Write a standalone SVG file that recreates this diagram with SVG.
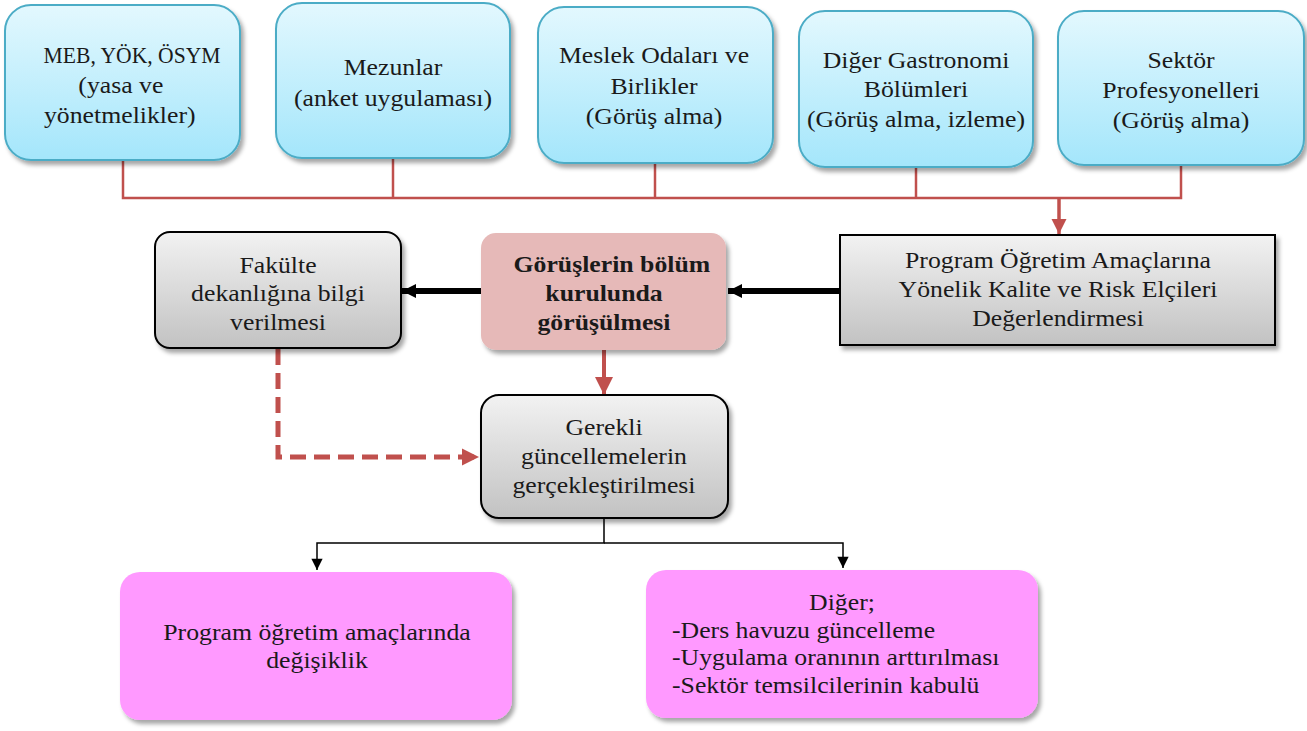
<svg xmlns="http://www.w3.org/2000/svg" width="1307" height="731" viewBox="0 0 1307 731">
  <defs>
    <linearGradient id="gBlue" x1="0" y1="0" x2="0" y2="1">
      <stop offset="0" stop-color="#e3f8fe"/>
      <stop offset="1" stop-color="#a4e6fb"/>
    </linearGradient>
    <linearGradient id="gGray" x1="0" y1="0" x2="0" y2="1">
      <stop offset="0" stop-color="#f2f2f2"/>
      <stop offset="1" stop-color="#c2c2c2"/>
    </linearGradient>
    <filter id="shadow" x="-10%" y="-10%" width="125%" height="130%">
      <feDropShadow dx="3" dy="4" stdDeviation="2.2" flood-color="#000" flood-opacity="0.35"/>
    </filter>
    <marker id="arRed" viewBox="0 0 10 10" refX="10" refY="5" markerWidth="4.5" markerHeight="4.5" orient="auto" markerUnits="strokeWidth">
      <path d="M0,0 L10,5 L0,10 z" fill="#c0504d"/>
    </marker>
    <marker id="arRedTop" viewBox="0 0 10 10" refX="10" refY="5" markerWidth="4.3" markerHeight="4.6" orient="auto" markerUnits="strokeWidth">
      <path d="M0,0 L10,5 L0,10 z" fill="#c0504d"/>
    </marker>
    <marker id="arRedDash" viewBox="0 0 10 10" refX="10" refY="5" markerWidth="3.4" markerHeight="4.6" orient="auto" markerUnits="strokeWidth">
      <path d="M0,0 L10,5 L0,10 z" fill="#c0504d"/>
    </marker>
    <marker id="arBlack" viewBox="0 0 10 10" refX="10" refY="5" markerWidth="2.4" markerHeight="3" orient="auto" markerUnits="strokeWidth">
      <path d="M0,0 L10,5 L0,10 z" fill="#000"/>
    </marker>
    <marker id="arThin" viewBox="0 0 10 10" refX="10" refY="5" markerWidth="8" markerHeight="7.5" orient="auto" markerUnits="strokeWidth">
      <path d="M0,0 L10,5 L0,10 z" fill="#000"/>
    </marker>
    <style>
      .blue { fill: url(#gBlue); stroke: #4bacc6; stroke-width: 2; filter: url(#shadow); }
      .gray { fill: url(#gGray); stroke: #000; stroke-width: 2; filter: url(#shadow); }
      .rose { fill: #e6b9b8; filter: url(#shadow); }
      .pink { fill: #ff99ff; filter: url(#shadow); }
      .t { font-family: "Liberation Serif", "DejaVu Serif", serif; font-size: 23px; fill: #1a1a1a; text-anchor: middle; }
      .l { text-anchor: start; }
      .b { font-weight: bold; }
      .red { fill: none; stroke: #c0504d; stroke-width: 2.5; }
    </style>
  </defs>

  <!-- connectors -->
  <g id="connectors">
    <polyline class="red" points="123,160 123,198 1181,198 1181,165"/>
    <line class="red" x1="393" y1="158" x2="393" y2="198"/>
    <line class="red" x1="655" y1="163" x2="655" y2="198"/>
    <line class="red" x1="916" y1="167" x2="916" y2="198"/>
    <line x1="1059" y1="197" x2="1059" y2="234" stroke="#c0504d" stroke-width="3.5" marker-end="url(#arRedTop)"/>
    <line x1="840" y1="291" x2="728" y2="291" stroke="#000" stroke-width="6" marker-end="url(#arBlack)"/>
    <line x1="481" y1="291" x2="402" y2="291" stroke="#000" stroke-width="6" marker-end="url(#arBlack)"/>
    <line x1="604" y1="350" x2="604" y2="395" stroke="#c0504d" stroke-width="4" marker-end="url(#arRed)"/>
    <polyline points="278,349 278,457 479,457" fill="none" stroke="#c0504d" stroke-width="5" stroke-dasharray="16 8" marker-end="url(#arRedDash)"/>
    <polyline points="604,518 604,543 317,543 317,570" fill="none" stroke="#000" stroke-width="1.5" marker-end="url(#arThin)"/>
    <polyline points="604,543 843,543 843,568" fill="none" stroke="#000" stroke-width="1.5" marker-end="url(#arThin)"/>
  </g>

  <!-- source boxes (text is widened slightly to the proportions of the original face) -->
  <g id="meb">
    <rect class="blue" x="5" y="5" width="235" height="155" rx="26"/>
    <text class="t" transform="translate(122 0) scale(1.12 1)"><tspan x="9" y="63" textLength="158" lengthAdjust="spacingAndGlyphs">MEB, YÖK, ÖSYM</tspan><tspan x="-1" y="93">(yasa ve</tspan><tspan x="-2" y="123">yönetmelikler)</tspan></text>
  </g>
  <g id="mezunlar">
    <rect class="blue" x="276" y="3" width="234" height="155" rx="26"/>
    <text class="t" transform="translate(393 0) scale(1.12 1)"><tspan x="0" y="75">Mezunlar</tspan><tspan x="0" y="106">(anket uygulaması)</tspan></text>
  </g>
  <g id="meslek">
    <rect class="blue" x="538" y="7" width="235" height="156" rx="26"/>
    <text class="t" transform="translate(654 0) scale(1.12 1)"><tspan x="0" y="63">Meslek Odaları ve</tspan><tspan x="0" y="94">Birlikler</tspan><tspan x="0" y="124">(Görüş alma)</tspan></text>
  </g>
  <g id="diger-gastronomi">
    <rect class="blue" x="799" y="11" width="234" height="156" rx="26"/>
    <text class="t" transform="translate(916 0) scale(1.12 1)"><tspan x="0" y="68">Diğer Gastronomi</tspan><tspan x="0" y="97">Bölümleri</tspan><tspan x="0" y="127">(Görüş alma, izleme)</tspan></text>
  </g>
  <g id="sektor">
    <rect class="blue" x="1058" y="11" width="246" height="154" rx="26"/>
    <text class="t" transform="translate(1181 0) scale(1.12 1)"><tspan x="0" y="68">Sektör</tspan><tspan x="0" y="98">Profesyonelleri</tspan><tspan x="0" y="128">(Görüş alma)</tspan></text>
  </g>

  <g id="kalite-risk">
    <rect class="gray" x="840" y="235" width="435" height="110"/>
    <text class="t" transform="translate(1058 0) scale(1.12 1)"><tspan x="0" y="268">Program Öğretim Amaçlarına</tspan><tspan x="0" y="297">Yönelik Kalite ve Risk Elçileri</tspan><tspan x="0" y="326">Değerlendirmesi</tspan></text>
  </g>
  <g id="bolum-kurulu">
    <rect class="rose" x="481" y="233" width="245" height="117" rx="15"/>
    <text class="t b" transform="translate(604 0) scale(1.12 1)"><tspan x="7" y="272">Görüşlerin bölüm</tspan><tspan x="0" y="301">kurulunda</tspan><tspan x="0" y="330">görüşülmesi</tspan></text>
  </g>
  <g id="fakulte">
    <rect class="gray" x="155" y="232" width="246" height="116" rx="15"/>
    <text class="t" transform="translate(278 0) scale(1.12 1)"><tspan x="0" y="273">Fakülte</tspan><tspan x="0" y="301">dekanlığına bilgi</tspan><tspan x="0" y="330">verilmesi</tspan></text>
  </g>
  <g id="guncellemeler">
    <rect class="gray" x="481" y="395" width="247" height="123" rx="18"/>
    <text class="t" transform="translate(604 0) scale(1.12 1)"><tspan x="0" y="435">Gerekli</tspan><tspan x="0" y="464">güncellemelerin</tspan><tspan x="0" y="493">gerçekleştirilmesi</tspan></text>
  </g>

  <g id="amac-degisiklik">
    <rect class="pink" x="120" y="572" width="392" height="148" rx="20"/>
    <text class="t" transform="translate(317 0) scale(1.12 1)"><tspan x="0" y="640">Program öğretim amaçlarında</tspan><tspan x="0" y="668">değişiklik</tspan></text>
  </g>
  <g id="diger">
    <rect class="pink" x="646" y="570" width="392" height="148" rx="20"/>
    <text class="t" transform="translate(842 0) scale(1.12 1)"><tspan x="0" y="610">Diğer;</tspan></text>
    <text class="t l" transform="translate(672 0) scale(1.12 1)"><tspan x="0" y="638">-Ders havuzu güncelleme</tspan><tspan x="0" y="665">-Uygulama oranının arttırılması</tspan><tspan x="0" y="693">-Sektör temsilcilerinin kabulü</tspan></text>
  </g>
</svg>
